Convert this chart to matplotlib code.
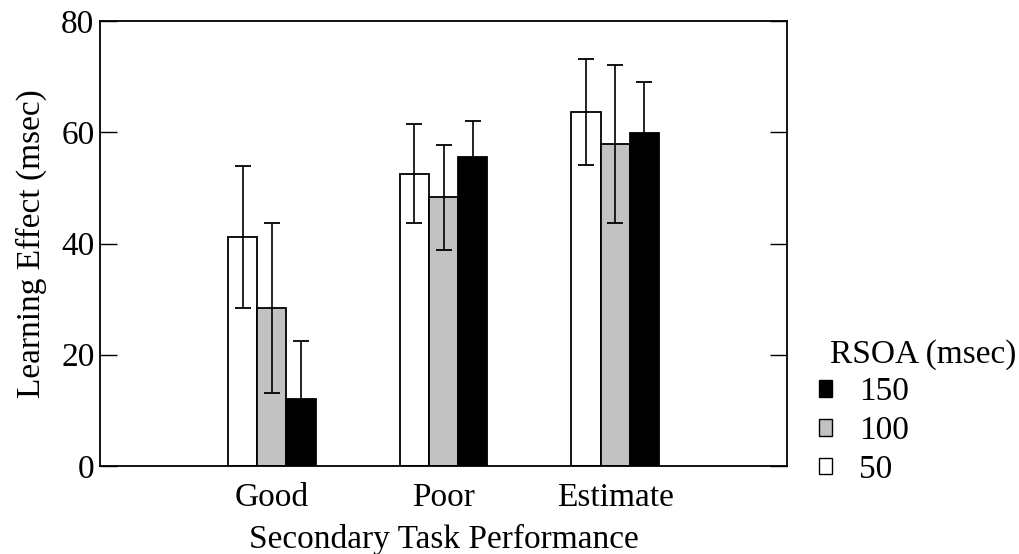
import numpy as np
import matplotlib.pyplot as plt
from matplotlib.patches import Patch

plt.rcParams['font.family'] = ['Liberation Serif', 'DejaVu Serif']

# --- data ---
categories = ["Good", "Poor", "Estimate"]
rsoa = ["50", "100", "150"]
means = {
    "50":  [41.2, 52.5, 63.6],
    "100": [28.4, 48.4, 57.9],
    "150": [12.0, 55.5, 59.9],
}
err_low = {
    "50":  [28.4, 43.7, 54.1],
    "100": [13.1, 38.8, 43.7],
    "150": [1.5, 49.0, 50.8],
}
err_high = {
    "50":  [53.9, 61.5, 73.2],
    "100": [43.7, 57.7, 72.1],
    "150": [22.5, 62.0, 69.0],
}
colors = {"50": "white", "100": "#c2c2c2", "150": "black"}

fs = 24

fig = plt.figure(figsize=(10.19, 5.54), dpi=100)
ax = fig.add_axes([100 / 1019, 88 / 554, 687 / 1019, 445 / 554])

x = np.arange(1, len(categories) + 1)
w = 0.17
for i, r in enumerate(rsoa):
    xs = x + (i - 1) * w
    m = np.array(means[r])
    lo = m - np.array(err_low[r])
    hi = np.array(err_high[r]) - m
    ax.bar(xs, m, width=w, color=colors[r], edgecolor="black", linewidth=1.3, zorder=2)
    ax.errorbar(xs, m, yerr=[lo, hi], fmt="none", ecolor="black",
                elinewidth=1.2, capsize=6, capthick=1.3, zorder=3)

ax.set_xlim(0, 4)
ax.set_ylim(0, 80)
ax.set_yticks([0, 20, 40, 60, 80])
ax.set_xticks(x)
ax.set_xticklabels(categories)
ax.tick_params(axis="y", direction="in", length=12, width=1, right=True, labelsize=fs, pad=4)
ax.tick_params(axis="x", length=0, labelsize=fs, pad=12)
for s in ax.spines.values():
    s.set_linewidth(1.3)

ax.set_ylabel("Learning Effect (msec)", fontsize=fs, labelpad=10)
ax.set_xlabel("Secondary Task Performance", fontsize=fs, labelpad=8)

# legend: title placed separately, indented past the markers
fig.text(1016 / 1019, 1 - 355 / 554, "RSOA (msec)", fontsize=fs, ha="right", va="center")
handles = [Patch(facecolor=colors[r], edgecolor="black", linewidth=1) for r in rsoa[::-1]]
leg = fig.legend(handles, rsoa[::-1], loc="upper left",
                 bbox_to_anchor=(812 / 1019, 1 - 370 / 554), frameon=False,
                 fontsize=fs, handlelength=0.4, handleheight=0.4,
                 handletextpad=0.8, labelspacing=0.25,
                 borderaxespad=0, borderpad=0.2)

fig.savefig("out.png", dpi=100)
